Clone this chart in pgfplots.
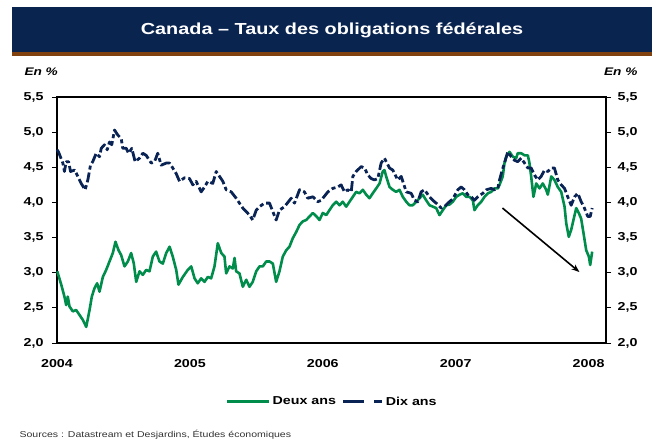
\documentclass[border=0pt]{standalone}
\usepackage{pgfplots}
\pgfplotsset{compat=1.18}
\usepackage{pgfplotstable}
\usepackage{fontspec}
\setmainfont{Liberation Sans}[FakeStretch=1.24]
\usetikzlibrary{arrows.meta}
\definecolor{dgreen}{RGB}{0,140,75}
\definecolor{dnavy}{RGB}{10,35,85}
\definecolor{bandnavy}{RGB}{10,36,80}
\definecolor{bandbrown}{RGB}{130,66,15}

\pgfplotstableread{
x y
0.002 3.02
0.032 2.83
0.056 2.66
0.069 2.54
0.081 2.66
0.094 2.52
0.119 2.45
0.144 2.47
0.169 2.40
0.194 2.33
0.220 2.23
0.245 2.47
0.262 2.66
0.282 2.78
0.302 2.85
0.320 2.73
0.345 2.94
0.370 3.04
0.395 3.16
0.420 3.28
0.440 3.44
0.463 3.32
0.483 3.25
0.508 3.09
0.533 3.16
0.558 3.28
0.578 3.13
0.596 2.87
0.621 3.02
0.646 2.97
0.671 3.04
0.696 3.02
0.721 3.23
0.746 3.30
0.771 3.16
0.796 3.13
0.822 3.28
0.847 3.37
0.871 3.23
0.897 3.04
0.914 2.83
0.947 2.94
0.984 3.04
1.010 3.09
1.035 2.92
1.059 2.85
1.085 2.92
1.110 2.87
1.135 2.94
1.160 2.92
1.185 3.09
1.210 3.42
1.236 3.28
1.260 3.23
1.273 2.99
1.298 3.09
1.323 3.06
1.336 3.21
1.348 3.02
1.373 2.99
1.398 2.80
1.424 2.90
1.448 2.80
1.473 2.87
1.499 3.02
1.524 3.09
1.549 3.09
1.574 3.16
1.599 3.16
1.624 3.13
1.649 2.87
1.674 3.02
1.699 3.23
1.725 3.32
1.749 3.37
1.774 3.49
1.800 3.58
1.825 3.68
1.849 3.73
1.875 3.75
1.900 3.80
1.925 3.85
1.953 3.80
1.975 3.75
2.000 3.85
2.026 3.82
2.050 3.89
2.075 3.96
2.101 4.01
2.126 3.96
2.150 4.01
2.176 3.94
2.201 4.01
2.226 4.08
2.251 4.15
2.276 4.13
2.301 4.18
2.327 4.11
2.351 4.06
2.376 4.13
2.402 4.20
2.427 4.27
2.451 4.44
2.464 4.46
2.477 4.37
2.502 4.22
2.527 4.18
2.552 4.15
2.577 4.18
2.602 4.08
2.628 4.01
2.652 3.96
2.677 3.96
2.703 4.01
2.728 4.06
2.752 4.11
2.778 4.03
2.803 3.96
2.828 3.94
2.853 3.92
2.878 3.82
2.903 3.89
2.929 3.96
2.953 3.97
2.978 4.01
3.004 4.08
3.029 4.11
3.053 4.13
3.079 4.08
3.104 4.08
3.129 4.03
3.141 3.89
3.166 3.96
3.192 4.01
3.217 4.08
3.242 4.13
3.267 4.15
3.292 4.20
3.317 4.20
3.330 4.25
3.354 4.37
3.367 4.56
3.380 4.65
3.405 4.72
3.430 4.65
3.455 4.63
3.467 4.70
3.493 4.70
3.518 4.67
3.543 4.67
3.555 4.56
3.568 4.37
3.585 4.08
3.606 4.27
3.631 4.20
3.655 4.27
3.681 4.18
3.693 4.11
3.719 4.37
3.743 4.32
3.768 4.22
3.794 4.15
3.819 3.94
3.832 3.70
3.851 3.51
3.869 3.61
3.886 3.75
3.907 3.92
3.926 3.85
3.944 3.77
3.962 3.56
3.982 3.32
4.002 3.23
4.012 3.11
4.027 3.30
}\deuxans

\pgfplotstableread{
x y
0.000 4.75
0.011 4.72
0.044 4.56
0.056 4.44
0.069 4.58
0.087 4.58
0.102 4.44
0.132 4.46
0.157 4.37
0.182 4.27
0.212 4.18
0.232 4.32
0.252 4.53
0.269 4.58
0.295 4.70
0.320 4.65
0.333 4.77
0.357 4.82
0.378 4.75
0.395 4.86
0.412 4.82
0.433 5.03
0.457 4.96
0.483 4.91
0.495 4.77
0.521 4.77
0.538 4.70
0.563 4.77
0.588 4.58
0.621 4.63
0.646 4.70
0.671 4.67
0.709 4.56
0.734 4.58
0.758 4.70
0.784 4.53
0.822 4.56
0.847 4.56
0.871 4.49
0.897 4.41
0.922 4.30
0.959 4.35
0.997 4.34
1.022 4.25
1.047 4.30
1.085 4.15
1.110 4.22
1.135 4.30
1.172 4.27
1.198 4.44
1.223 4.37
1.248 4.30
1.273 4.18
1.311 4.15
1.348 4.06
1.398 3.92
1.424 3.87
1.448 3.82
1.473 3.75
1.499 3.89
1.524 3.94
1.561 3.99
1.599 3.99
1.624 3.87
1.649 3.75
1.674 3.89
1.712 3.94
1.762 4.06
1.787 3.99
1.825 4.18
1.862 4.15
1.887 4.06
1.925 4.08
1.962 4.01
1.988 4.03
2.038 4.15
2.075 4.20
2.113 4.22
2.138 4.25
2.163 4.15
2.188 4.18
2.214 4.15
2.226 4.37
2.251 4.44
2.289 4.51
2.314 4.49
2.339 4.39
2.364 4.34
2.389 4.32
2.414 4.34
2.439 4.56
2.464 4.63
2.477 4.58
2.502 4.49
2.527 4.46
2.564 4.32
2.590 4.37
2.628 4.15
2.665 4.13
2.690 4.03
2.715 4.01
2.740 4.15
2.765 4.18
2.803 4.08
2.828 4.03
2.853 3.99
2.891 3.92
2.916 3.94
2.941 3.99
2.978 4.05
3.016 4.18
3.041 4.22
3.066 4.18
3.091 4.11
3.117 4.08
3.141 4.03
3.166 4.08
3.204 4.13
3.230 4.18
3.267 4.20
3.292 4.18
3.317 4.20
3.330 4.32
3.350 4.46
3.367 4.56
3.392 4.72
3.418 4.65
3.442 4.60
3.467 4.58
3.493 4.63
3.518 4.56
3.543 4.49
3.568 4.49
3.593 4.39
3.618 4.32
3.643 4.37
3.668 4.46
3.693 4.44
3.719 4.49
3.743 4.49
3.768 4.32
3.794 4.25
3.819 4.20
3.843 4.08
3.869 3.96
3.894 4.08
3.919 4.13
3.944 4.01
3.964 3.94
3.994 3.80
4.012 3.80
4.027 3.92
}\dixans

\begin{document}
\begin{tikzpicture}[x=1pt,y=1pt]
\begin{axis}[
  name=main,
  scale only axis, width=549pt, height=246pt,
  xmin=0, xmax=4.131, ymin=2, ymax=5.5,
  clip=false,
  xtick={0,1,2,3,4}, xticklabels={2004,2005,2006,2007,2008},
  x tick style={draw=none},
  ytick={2,2.5,3,3.5,4,4.5,5,5.5},
  ytick pos=both,
  tick align=outside, major tick length=5pt,
  axis line style={line width=1.1pt},
  y tick style={line width=1pt, black},
  /pgf/number format/assume math mode=true,
  ticklabel style={font=\fontsize{11.5}{13}\selectfont\bfseries},
  yticklabel style={xshift=-5pt, /pgf/number format/.cd, use comma, fixed, fixed zerofill, precision=1},
  xticklabel style={yshift=-8pt},
  legend style={at={(0.5015,-0.2386)}, anchor=center, draw=none, fill=none,
    font=\fontsize{11.5}{13}\selectfont\bfseries, legend columns=2,
    /tikz/every even column/.append style={column sep=4pt}},
  legend cell align=left,
]
\addplot[dgreen, line width=2.6pt, line join=round,
  legend image code/.code={\draw[dgreen, line width=2.6pt] (0,0) -- (42pt,0);}]
  table[x=x,y=y] {\deuxans};
\addlegendentry{Deux ans}
\addplot[dnavy, line width=2.8pt, line join=round, dash pattern=on 10pt off 3pt on 4pt off 3pt,
  legend image code/.code={\draw[dnavy, line width=2.8pt, dash pattern=on 21pt off 10pt on 8pt off 10pt] (0,0) -- (39pt,0);}]
  table[x=x,y=y] {\dixans};
\addlegendentry{Dix ans}
\draw[-{Stealth[length=8pt,width=6pt]}, line width=1.6pt, black] (axis cs:3.352,3.92) -- (axis cs:3.931,3.01);
\coordinate (O) at (rel axis cs:0,0);
\begin{scope}[every node/.style={anchor=west, font=\fontsize{11.5}{13}\selectfont\bfseries, inner sep=0pt}]
\node at ([xshift=11.5pt]axis cs:4.131,2.0) {2,0};
\node at ([xshift=11.5pt]axis cs:4.131,2.5) {2,5};
\node at ([xshift=11.5pt]axis cs:4.131,3.0) {3,0};
\node at ([xshift=11.5pt]axis cs:4.131,3.5) {3,5};
\node at ([xshift=11.5pt]axis cs:4.131,4.0) {4,0};
\node at ([xshift=11.5pt]axis cs:4.131,4.5) {4,5};
\node at ([xshift=11.5pt]axis cs:4.131,5.0) {5,0};
\node at ([xshift=11.5pt]axis cs:4.131,5.5) {5,5};
\end{scope}
\end{axis}

\begin{scope}[shift={(O)}, xshift=-57pt, yshift=-96pt]
\path (0,0) rectangle (652,439);
\fill[bandnavy] (12,387) rectangle (652,432);
\fill[bandbrown] (12,383) rectangle (652,387);
\node[text=white, font=\fontsize{16}{19}\selectfont\bfseries] at (332,409) {Canada – Taux des obligations fédérales};
\node[anchor=west, font=\fontsize{11}{13}\selectfont\bfseries\itshape] at (21,367) {En \%};
\node[anchor=east, font=\fontsize{11}{13}\selectfont\bfseries\itshape] at (641,367) {En \%};
\node[anchor=base west, font=\fontsize{8.5}{10}\selectfont, text=black!80] at (16,2) {Sources : Datastream et Desjardins, Études économiques};
\end{scope}
\end{tikzpicture}
\end{document}
